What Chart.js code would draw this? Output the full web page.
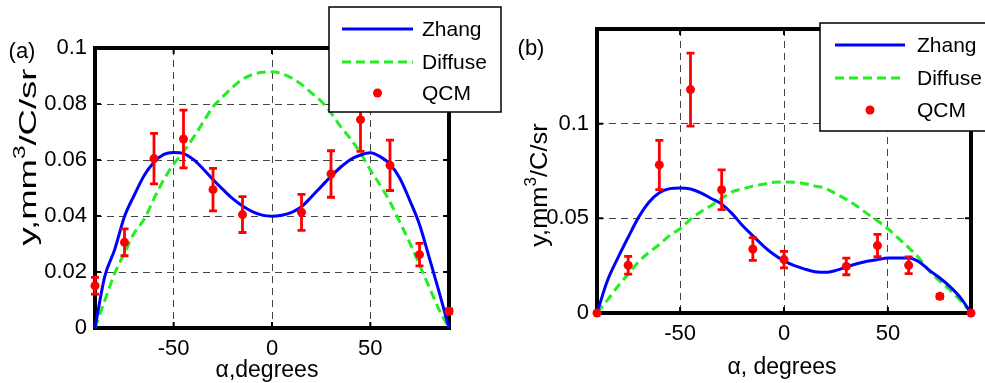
<!DOCTYPE html>
<html>
<head>
<meta charset="utf-8">
<script src="https://cdn.jsdelivr.net/npm/chart.js@4"></script>
<style>
body{margin:0;background:#fff;width:985px;height:383px;position:relative;overflow:hidden;font-family:"Liberation Sans",Arial,sans-serif;color:#000;}
canvas{position:absolute;top:0;}
.lbl{position:absolute;font-size:22px;white-space:nowrap;transform:translate(-50%,-50%);}
.xtitle{font-size:23px;}
.ytitle{position:absolute;font-size:24px;white-space:nowrap;}
.ytitle sup{font-size:16px;position:relative;top:-2px;}
</style>
</head>
<body>
<canvas id="chartA" width="505" height="383" style="left:0"></canvas>
<canvas id="chartB" width="495" height="383" style="left:490px"></canvas>

<div class="lbl" style="left:22px;top:51px">(a)</div>
<div class="lbl" style="left:531px;top:48px">(b)</div>
<div class="lbl xtitle" style="left:267px;top:369px">&alpha;,degrees</div>
<div class="lbl xtitle" style="left:782px;top:366px">&alpha;, degrees</div>
<div class="ytitle" style="left:27px;top:157px;transform:translate(-50%,-50%) rotate(-90deg) scaleX(1.52)">y,mm<sup>3</sup>/C/sr</div>
<div class="ytitle" style="left:538px;top:185px;transform:translate(-50%,-50%) rotate(-90deg) scaleX(1.06)">y,mm<sup>3</sup>/C/sr</div>

<script>
// angle grid for the model curves (degrees)
const angles = [-90,-85,-80,-75,-70,-65,-60,-55,-50,-45,-40,-35,-30,-25,-20,-15,-10,-5,0,
  5,10,15,20,25,30,35,40,45,50,55,60,65,70,75,80,85,90];

// panel (a)
const zhangA = [0,0.0185,0.028,0.0398,0.0475,0.0545,0.0592,0.062,0.0627,0.0623,0.0602,0.0568,0.053,
  0.0495,0.0462,0.0436,0.0416,0.0403,0.0399,0.0403,0.0413,0.0433,0.0468,0.0505,0.0542,0.0575,
  0.0602,0.0618,0.0626,0.0612,0.0585,0.0535,0.0457,0.037,0.025,0.0128,0];
const diffuseA = [0,0.0098,0.0195,0.0268,0.034,0.0388,0.0462,0.053,0.0585,0.063,0.068,0.0735,0.079,
  0.0826,0.086,0.0888,0.0905,0.0913,0.0915,0.0908,0.0893,0.087,0.084,0.081,0.0768,0.0718,
  0.0675,0.0625,0.0565,0.051,0.045,0.0378,0.0305,0.0225,0.0145,0.0065,0];
const qcmAngleA = [-90,-75,-60,-45,-30,-15,15,30,45,60,75,90];
const qcmA = [0.0151,0.0306,0.0605,0.0675,0.0494,0.0405,0.0413,0.055,0.0744,0.0581,0.0262,0.006];
const qcmErrA = [0.003,0.0048,0.009,0.0103,0.0076,0.0064,0.0064,0.0083,0.0113,0.009,0.004,0.0008];
const yTicksA = [0,0.02,0.04,0.06,0.08,0.1];
const yLabelsA = ['0','0.02','0.04','0.06','0.08','0.1'];

// panel (b)
const zhangB = [0,0.017,0.029,0.04,0.0505,0.0585,0.0635,0.0657,0.066,0.0655,0.0635,0.0605,0.0575,
  0.0525,0.0462,0.0408,0.0355,0.031,0.0275,0.025,0.0232,0.0218,0.0215,0.0225,0.0243,0.026,
  0.0273,0.0282,0.029,0.029,0.029,0.027,0.0225,0.0185,0.0138,0.008,0];
const diffuseB = [0,0.0068,0.014,0.0205,0.027,0.032,0.0362,0.041,0.0445,0.0495,0.0535,0.0568,0.0605,
  0.064,0.0655,0.067,0.068,0.069,0.0692,0.069,0.0683,0.067,0.0658,0.063,0.06,0.0565,
  0.0525,0.0487,0.0445,0.0395,0.0345,0.029,0.022,0.0168,0.012,0.0065,0];
const qcmAngleB = [-90,-75,-60,-45,-30,-15,0,30,45,60,75,90];
const qcmB = [0,0.0252,0.0782,0.118,0.0651,0.0338,0.0282,0.0246,0.0356,0.0252,0.0088,0];
const qcmErrB = [0,0.0047,0.013,0.0193,0.0105,0.006,0.0044,0.0044,0.0059,0.0044,0.001,0];
const yTicksB = [0,0.05,0.1];
const yLabelsB = ['0','0.05','0.1'];

const xTicks = [-50,0,50];
const xLabels = ['-50','0','50'];

const FONT = {family:'"Liberation Sans", Arial, sans-serif', size:22};

function pairs(xs, ys) {
  return xs.map((x, i) => ({x: x, y: ys[i]}));
}

// thick box around the axes with short inward ticks
const framePlugin = {
  id: 'frame',
  beforeDatasetsDraw(chart) {
    const ctx = chart.ctx, a = chart.chartArea, sx = chart.scales.x, sy = chart.scales.y;
    ctx.save();
    ctx.strokeStyle = '#000';
    ctx.lineWidth = 2;
    ctx.beginPath();
    sx.ticks.forEach(t => {
      const px = sx.getPixelForValue(t.value);
      ctx.moveTo(px, a.bottom); ctx.lineTo(px, a.bottom - 6);
      ctx.moveTo(px, a.top); ctx.lineTo(px, a.top + 6);
    });
    sy.ticks.forEach(t => {
      const py = sy.getPixelForValue(t.value);
      ctx.moveTo(a.left, py); ctx.lineTo(a.left + 6, py);
      ctx.moveTo(a.right, py); ctx.lineTo(a.right - 6, py);
    });
    ctx.stroke();
    ctx.lineWidth = 4;
    ctx.strokeRect(a.left, a.top, a.right - a.left, a.bottom - a.top);
    ctx.restore();
  }
};

// vertical error bars with caps for datasets that carry an "errors" array
const errorBarPlugin = {
  id: 'errorBars',
  afterDatasetsDraw(chart) {
    const ctx = chart.ctx, sx = chart.scales.x, sy = chart.scales.y;
    chart.data.datasets.forEach(ds => {
      if (!ds.errors) return;
      ctx.save();
      ctx.strokeStyle = ds.backgroundColor;
      ctx.lineWidth = 2.8;
      ds.data.forEach((p, i) => {
        const e = ds.errors[i];
        if (!e) return;
        const px = sx.getPixelForValue(p.x);
        const top = sy.getPixelForValue(p.y + e);
        const bot = sy.getPixelForValue(p.y - e);
        ctx.beginPath();
        ctx.moveTo(px, top); ctx.lineTo(px, bot);
        ctx.moveTo(px - 4, top); ctx.lineTo(px + 4, top);
        ctx.moveTo(px - 4, bot); ctx.lineTo(px + 4, bot);
        ctx.stroke();
      });
      ctx.restore();
    });
  }
};

// boxed legend sitting over the top right corner
const boxLegendPlugin = {
  id: 'boxLegend',
  afterDraw(chart, args, opts) {
    const ctx = chart.ctx;
    const b = opts.box;
    ctx.save();
    ctx.fillStyle = '#fff';
    ctx.fillRect(b[0], b[1], b[2], b[3]);
    ctx.strokeStyle = '#000';
    ctx.lineWidth = 1.5;
    ctx.strokeRect(b[0], b[1], b[2], b[3]);
    ctx.font = '21px "Liberation Sans", Arial, sans-serif';
    ctx.textBaseline = 'middle';
    ctx.fillStyle = '#000';
    opts.order.forEach((label, i) => {
      const ds = chart.data.datasets.find(d => d.label === label);
      const y = opts.rowY[i];
      if (ds.showLine) {
        ctx.save();
        ctx.strokeStyle = ds.borderColor;
        ctx.lineWidth = ds.borderWidth;
        ctx.setLineDash(ds.borderDash || []);
        ctx.beginPath();
        ctx.moveTo(opts.lineX[0], y);
        ctx.lineTo(opts.lineX[1], y);
        ctx.stroke();
        ctx.restore();
      } else {
        ctx.save();
        ctx.fillStyle = ds.backgroundColor;
        ctx.beginPath();
        ctx.arc((opts.lineX[0] + opts.lineX[1]) / 2, y, ds.pointRadius, 0, Math.PI * 2);
        ctx.fill();
        ctx.restore();
      }
      ctx.fillText(label, opts.textX, y + 1);
    });
    ctx.restore();
  }
};

function makeChart(id, cfg) {
  return new Chart(document.getElementById(id), {
    type: 'scatter',
    data: {
      datasets: [
        {label: 'QCM', data: pairs(cfg.qcmAngle, cfg.qcm), errors: cfg.qcmErr, showLine: false,
          backgroundColor: '#ff0000', borderWidth: 0, pointRadius: 4.5, pointHoverRadius: 4.5, clip: false},
        {label: 'Zhang', data: pairs(angles, cfg.zhang), showLine: true, borderColor: '#0000ff',
          borderWidth: 3, pointRadius: 0, cubicInterpolationMode: 'monotone', clip: false},
        {label: 'Diffuse', data: pairs(angles, cfg.diffuse), showLine: true, borderColor: '#22ee22',
          borderWidth: 3, borderDash: [9, 5], pointRadius: 0, cubicInterpolationMode: 'monotone', clip: false}
      ]
    },
    options: {
      responsive: false,
      animation: false,
      events: [],
      layout: {padding: cfg.padding},
      scales: {
        x: {
          type: 'linear', min: -90, max: 90,
          afterBuildTicks: s => { s.ticks = xTicks.map(v => ({value: v})); },
          afterFit: s => { s.height = cfg.xHeight; },
          ticks: {callback: (v, i) => xLabels[i], color: '#000', font: FONT, padding: 8, maxRotation: 0},
          grid: {color: '#444', lineWidth: 1, drawTicks: false},
          border: {display: false, dash: [7, 5]}
        },
        y: {
          type: 'linear', min: 0, max: cfg.yMax,
          afterBuildTicks: s => { s.ticks = cfg.yTicks.map(v => ({value: v})); },
          afterFit: s => { s.width = cfg.yWidth; },
          ticks: {callback: (v, i) => cfg.yLabels[i], color: '#000', font: FONT, padding: 8},
          grid: {color: '#444', lineWidth: 1, drawTicks: false},
          border: {display: false, dash: [7, 5]}
        }
      },
      plugins: {
        legend: {display: false},
        tooltip: {enabled: false},
        boxLegend: cfg.legend
      }
    },
    plugins: [framePlugin, errorBarPlugin, boxLegendPlugin]
  });
}

makeChart('chartA', {
  zhang: zhangA, diffuse: diffuseA, qcmAngle: qcmAngleA, qcm: qcmA, qcmErr: qcmErrA,
  yMax: 0.1, yTicks: yTicksA, yLabels: yLabelsA,
  padding: {left: 0, right: 56, top: 48, bottom: 0}, yWidth: 95, xHeight: 55,
  legend: {box: [329, 7, 172, 105], order: ['Zhang', 'Diffuse', 'QCM'], rowY: [29, 62, 93],
    lineX: [342, 413], textX: 422}
});

makeChart('chartB', {
  zhang: zhangB, diffuse: diffuseB, qcmAngle: qcmAngleB, qcm: qcmB, qcmErr: qcmErrB,
  yMax: 0.15, yTicks: yTicksB, yLabels: yLabelsB,
  padding: {left: 0, right: 14, top: 29, bottom: 0}, yWidth: 107, xHeight: 70,
  legend: {box: [330, 23, 180, 108], order: ['Zhang', 'Diffuse', 'QCM'], rowY: [45, 78, 110],
    lineX: [345, 415], textX: 427}
});
</script>
</body>
</html>
